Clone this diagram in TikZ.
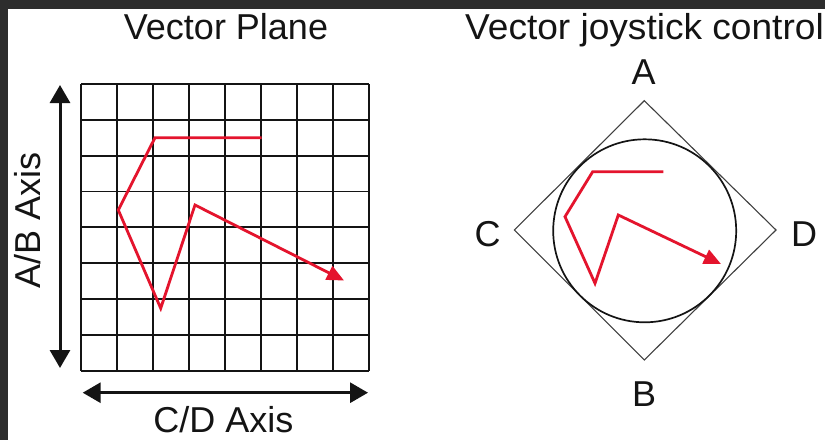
\documentclass[tikz,border=0pt]{standalone}
\usepackage{fontspec}
\setmainfont{Liberation Sans}
\usetikzlibrary{arrows.meta}
\definecolor{frame}{RGB}{45,45,45}
\definecolor{vred}{RGB}{228,20,45}
\definecolor{ink}{RGB}{20,20,20}
\tikzset{
  lbl/.style={font=\fontsize{36}{40}\selectfont, text=ink, inner sep=0pt},
  gridline/.style={line width=1.8pt, ink},
  axisarrow/.style={line width=3pt, ink, {Triangle[length=18pt,width=20pt]}-{Triangle[length=18pt,width=20pt]}},
  redpath/.style={line width=2.8pt, vred, line join=miter, -{Triangle[length=17pt,width=15pt]}},
  diamondline/.style={line width=1.1pt, black!75},
  ringline/.style={line width=1.7pt, ink}
}
\begin{document}
\begin{tikzpicture}[x=1pt,y=-1pt]
\useasboundingbox (0,0) rectangle (825,440);
\clip (0,0) rectangle (825,440);
\fill[white] (0,0) rectangle (825,440);
\fill[frame] (0,0) rectangle (825,9);
\fill[frame] (0,0) rectangle (8,440);

% titles
\node[lbl, anchor=base] (t1) at (226,39.5) {Vector Plane};
\node[lbl, anchor=base west, xscale=1.03] (t2) at (465,39.5) {Vector joystick control};

% grid
\foreach \i in {0,...,8} {
  \draw[gridline] (81+36*\i,84) -- (81+36*\i,370.7);
  \draw[gridline] (81,84+35.84*\i) -- (369,84+35.84*\i);
}

% axes
\coordinate (ab1) at (60,85);
\coordinate (ab2) at (60,368);
\draw[axisarrow] (ab1) -- (ab2);
\coordinate (cd1) at (82.7,392.7);
\coordinate (cd2) at (368,392.7);
\draw[axisarrow] (cd1) -- (cd2);
\node[lbl, anchor=base, rotate=90] (abl) at (40,220) {A/B Axis};
\node[lbl, anchor=base] (cdl) at (223.5,432) {C/D Axis};

% red path on grid
\coordinate (p0) at (261.7,137.7);
\coordinate (p1) at (155,137.7);
\coordinate (p2) at (118.3,210);
\coordinate (p3) at (160.7,308.3);
\coordinate (p4) at (195,205);
\coordinate (p5) at (344,280.5);
\draw[redpath] (p0) -- (p1) -- (p2) -- (p3) -- (p4) -- (p5);

% joystick
\coordinate (dA) at (644.3,100.7);
\coordinate (dD) at (776,230);
\coordinate (dB) at (644.3,360);
\coordinate (dC) at (514.3,230);
\draw[diamondline] (dA) -- (dD) -- (dB) -- (dC) -- cycle;
\draw[ringline] (644.7,230.8) circle (91.5);

\node[lbl, anchor=base] (la) at (643.5,84.3) {A};
\node[lbl, anchor=base] (lb) at (644,406.7) {B};
\node[lbl, anchor=base west] (lc) at (474.5,246.5) {C};
\node[lbl, anchor=base west] (ld) at (791,246.5) {D};

\coordinate (q0) at (663.3,171.7);
\coordinate (q1) at (592.7,171.7);
\coordinate (q2) at (565,216.7);
\coordinate (q3) at (595,283.3);
\coordinate (q4) at (618.3,215);
\coordinate (q5) at (721,264);
\draw[redpath] (q0) -- (q1) -- (q2) -- (q3) -- (q4) -- (q5);
\end{tikzpicture}
\end{document}
